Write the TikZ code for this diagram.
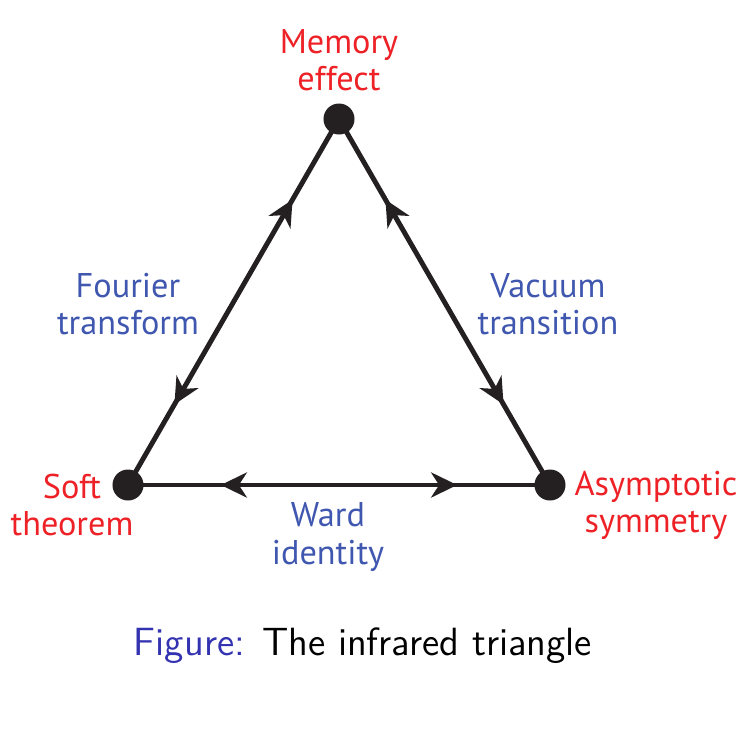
\documentclass[tikz,border=0pt]{standalone}
\usepackage{fontspec}
\newfontfamily\labelfont{PT Sans}
\usetikzlibrary{arrows.meta,decorations.markings}
\definecolor{linegray}{rgb}{0.14,0.12,0.13}
\definecolor{labelred}{rgb}{0.93,0.13,0.15}
\definecolor{labelblue}{rgb}{0.25,0.34,0.69}
\definecolor{figblue}{rgb}{0.2,0.2,0.7}
\tikzset{
  vertex/.style={circle,fill=linegray,inner sep=0pt,minimum size=0.31cm},
  twoway/.style={line width=1.4pt,color=linegray,postaction={decorate},
    decoration={markings,
      mark=at position 0.22 with {\arrowreversed{Stealth[length=0.26cm,width=0.25cm,inset=0.08cm]}},
      mark=at position 0.78 with {\arrow{Stealth[length=0.26cm,width=0.25cm,inset=0.08cm]}}}},
  redlbl/.style={text=labelred,align=center,inner sep=0pt,font=\labelfont\fontsize{9.75}{10.6}\selectfont},
  bluelbl/.style={text=labelblue,align=center,inner sep=0pt,font=\labelfont\fontsize{9.75}{10.6}\selectfont}
}
\begin{document}
\begin{tikzpicture}[x=0.01cm,y=-0.01cm]
\useasboundingbox (0,0) rectangle (741,741);
\node[vertex] (mem) at (339,119) {};
\node[vertex] (soft) at (128,485) {};
\node[vertex] (asym) at (550,485) {};
\draw [twoway] (soft.center) -- (mem.center);
\draw [twoway] (asym.center) -- (mem.center);
\draw [twoway] (asym.center) -- (soft.center);
\node[redlbl] (memlbl) at (339,60) {Memory\\effect};
\node[redlbl] (softlbl) at (72,505) {Soft\\theorem};
\node[redlbl] (asymlbl) at (656,505) {Asymptotic\\symmetry};
\node[bluelbl] (fourlbl) at (128,304) {Fourier\\transform};
\node[bluelbl] (vaclbl) at (548,304) {Vacuum\\transition};
\node[bluelbl] (wardlbl) at (328,537) {Ward\\identity};
\node[anchor=base,inner sep=0pt,font=\sffamily\fontsize{11.2}{13}\selectfont] (caption) at (363,655) {\textcolor{figblue}{Figure:} The infrared triangle};
\end{tikzpicture}
\end{document}
